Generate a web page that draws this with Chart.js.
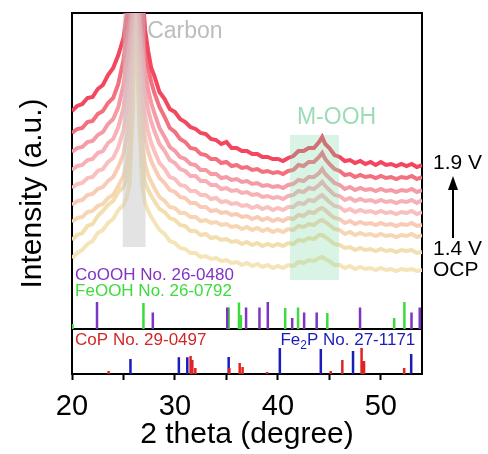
<!DOCTYPE html>
<html>
<head>
<meta charset="utf-8">
<script src="https://cdn.jsdelivr.net/npm/chart.js@4.4.0/dist/chart.umd.min.js"></script>
<style>
  html, body { margin: 0; padding: 0; background: #fff; }
</style>
</head>
<body>
<canvas id="myChart" width="488" height="454"></canvas>
<script>
// 2 theta grid shared by all scans
const twoTheta = [
  20, 20.5, 21, 21.5, 22, 22.5, 23, 23.5, 24, 24.5, 25,
  25.3, 25.6, 25.9, 26.2, 26.5, 26.8, 27.1, 27.4, 27.7,
  28, 28.5, 29, 29.5, 30, 30.5, 31, 31.5, 32, 32.5, 33, 33.5, 34, 34.5, 35, 35.5, 36, 36.5, 37, 37.5, 38, 38.5, 39, 39.5, 40, 40.5, 41, 41.5, 42, 42.5, 43, 43.5, 44,
  44.3, 44.6,
  45, 45.5, 46, 46.5, 47, 47.5, 48, 48.5, 49, 49.5, 50, 50.5, 51, 51.5, 52, 52.5, 53, 53.5, 54
];

// scans, from 1.9 V (top) down to OCP (bottom), stacked intensities
const scan19 = [
  263, 268, 270, 276, 277, 285, 289, 299, 306, 319, 336,
  358, 394, 414, 424, 414, 389, 344, 323, 306,
  298, 282, 275, 265, 262, 255, 252, 247, 245, 241, 240, 235, 234, 230, 232, 226, 226, 223, 223, 220, 220, 217, 217, 215, 215, 213, 216, 218, 223, 223, 226, 226, 232,
  237, 230,
  226, 219, 217, 213, 214, 211, 213, 210, 212, 209, 212, 209, 210, 208, 210, 208, 210, 207, 209
];
const scan2 = [
  241, 245, 246, 252, 253, 260, 263, 271, 276, 290, 314,
  339, 369, 395, 405, 395, 364, 329, 306, 292,
  281, 267, 257, 246, 242, 235, 232, 226, 225, 220, 219, 215, 215, 211, 212, 208, 209, 206, 207, 204, 205, 202, 203, 201, 202, 200, 203, 204, 209, 208, 212, 212, 217,
  221, 215,
  210, 205, 203, 199, 200, 197, 199, 197, 198, 196, 198, 196, 197, 195, 197, 196, 198, 195, 197
];
const scan3 = [
  222, 226, 227, 232, 233, 239, 242, 250, 255, 267, 289,
  314, 344, 369, 379, 369, 339, 304, 284, 271,
  261, 246, 237, 227, 223, 217, 215, 210, 209, 204, 204, 200, 200, 196, 197, 194, 195, 192, 193, 190, 191, 188, 189, 187, 188, 186, 189, 190, 194, 193, 197, 197, 201,
  205, 200,
  196, 191, 189, 185, 187, 184, 186, 184, 185, 183, 185, 183, 184, 182, 184, 183, 185, 182, 184
];
const scan4 = [
  204, 208, 209, 214, 215, 221, 223, 231, 235, 247, 266,
  289, 319, 360, 400, 360, 314, 282, 264, 252,
  243, 230, 223, 214, 211, 205, 203, 198, 198, 193, 193, 189, 189, 185, 186, 183, 184, 181, 182, 179, 180, 177, 178, 176, 177, 175, 178, 179, 183, 182, 186, 185, 189,
  192, 188,
  184, 179, 178, 174, 176, 173, 175, 173, 174, 172, 174, 172, 173, 171, 173, 172, 174, 171, 174
];
const scan5 = [
  186, 190, 191, 196, 197, 203, 205, 212, 216, 227, 244,
  264, 289, 340, 400, 340, 286, 259, 242, 231,
  223, 211, 205, 197, 195, 189, 188, 183, 183, 179, 179, 175, 176, 172, 173, 170, 171, 168, 169, 166, 168, 165, 167, 164, 166, 164, 167, 167, 171, 170, 174, 173, 177,
  179, 176,
  172, 168, 167, 163, 165, 162, 164, 162, 163, 161, 163, 161, 162, 160, 162, 161, 163, 160, 162
];
const scan6 = [
  169, 173, 174, 179, 180, 185, 187, 193, 197, 207, 220,
  236, 260, 320, 400, 320, 260, 236, 222, 213,
  206, 196, 191, 184, 182, 177, 176, 171, 171, 167, 167, 163, 164, 161, 162, 159, 160, 157, 158, 155, 157, 154, 156, 153, 155, 153, 156, 155, 159, 158, 162, 161, 165,
  166, 164,
  160, 156, 155, 151, 153, 150, 152, 150, 151, 149, 151, 149, 150, 148, 150, 149, 151, 148, 149
];
const scan7 = [
  152, 156, 157, 162, 163, 168, 170, 176, 179, 188, 198,
  210, 230, 300, 400, 300, 230, 210, 199, 192,
  186, 177, 173, 167, 166, 161, 161, 157, 157, 153, 154, 151, 152, 149, 150, 147, 148, 145, 147, 144, 146, 143, 145, 142, 144, 142, 145, 144, 148, 147, 150, 149, 153,
  154, 152,
  149, 145, 144, 140, 142, 139, 141, 139, 140, 138, 140, 138, 139, 137, 139, 138, 140, 137, 139
];
const scan14 = [
  134, 139, 141, 148, 150, 158, 163, 169, 173, 182, 187,
  194, 210, 280, 390, 280, 210, 192, 184, 178,
  173, 165, 162, 156, 154, 149, 148, 143, 143, 139, 140, 136, 137, 134, 135, 132, 133, 130, 132, 129, 131, 128, 130, 128, 130, 128, 131, 130, 134, 133, 136, 135, 139,
  139, 137,
  134, 130, 129, 126, 127, 124, 126, 124, 125, 123, 125, 123, 124, 122, 124, 123, 124, 121, 122
];
const scanOCP = [
  116, 121, 124, 130, 133, 141, 144, 151, 155, 164, 169,
  176, 190, 260, 380, 260, 190, 171, 163, 157,
  152, 144, 140, 133, 131, 126, 125, 121, 121, 117, 118, 115, 116, 113, 114, 111, 112, 109, 111, 108, 110, 107, 109, 106, 108, 106, 109, 108, 112, 111, 114, 113, 116,
  117, 115,
  113, 109, 109, 106, 108, 105, 107, 105, 106, 104, 106, 104, 105, 103, 105, 104, 105, 103, 104
];

// reference patterns: peak positions (2 theta) and relative heights
const coooh2Theta = [22.43, 27.85, 35.08, 36.91, 38.21, 39.02, 41.39, 42.55, 43.77, 47.98, 52.98, 53.78];
const cooohHeight = [27, 16.5, 21.5, 21.5, 21.5, 27, 11, 16.5, 16.5, 21.5, 16.5, 21.5];
const feooh2Theta = [20.05, 26.94, 35.22, 36.22, 36.4, 40.71, 41.96, 44.8, 51.3, 52.29];
const feoohHeight = [5, 26, 21.5, 26.5, 14, 21, 21.5, 16, 11, 27];
const cop2Theta = [23.56, 31.52, 31.69, 31.98, 35.29, 36.29, 36.57, 38.95, 45.13, 46.26, 48.13, 48.37, 52.27];
const copHeight = [3, 18, 14, 6, 6, 11, 7, 2, 3, 14, 26, 13, 6];
const fe2p2Theta = [25.68, 30.38, 31.2, 35.22, 40.19, 44.17, 47.3, 52.95];
const fe2pHeight = [15, 16.7, 16.7, 17, 26, 25, 23, 20];

const xTickLabels = [20, 30, 40, 50];

const scans = [scan19, scan2, scan3, scan4, scan5, scan6, scan7, scan14, scanOCP];
const scanColors = ['#f3465f', '#f3707f', '#f59ba5', '#f7b0b6', '#f8c0bf', '#f8cbb7', '#f6d6b3', '#f3deaf', '#f4e4b8'];

const upperBase = 45;   // baseline of the CoOOH / FeOOH pattern
const FONT = "'Liberation Sans', Arial, sans-serif";

function sticks(pos, h, base){
  const pts = [];
  pos.forEach(function(p, i){
    pts.push({x: p, y: base}, {x: p, y: base + h[i]}, {x: p, y: null});
  });
  return pts;
}

const datasets = scans.map(function(s, i){
  return {
    data: twoTheta.map(function(t, j){ return {x: t, y: s[j]}; }),
    borderColor: scanColors[i],
    borderWidth: 4,
    pointRadius: 0,
    tension: 0
  };
});
function stickSet(pos, h, base, color){
  return { data: sticks(pos, h, base), borderColor: color, borderWidth: 2.5, pointRadius: 0, spanGaps: false };
}
datasets.push(stickSet(coooh2Theta, cooohHeight, upperBase, '#7f35c4'));
datasets.push(stickSet(feooh2Theta, feoohHeight, upperBase, '#3ddb3d'));
datasets.push(stickSet(cop2Theta, copHeight, 0, '#e02424'));
datasets.push(stickSet(fe2p2Theta, fe2pHeight, 0, '#1c1cb8'));
// divider between the two reference panels
datasets.push({ data: [{x: 20, y: upperBase}, {x: 54, y: upperBase}], borderColor: '#000', borderWidth: 2, pointRadius: 0 });

const decorations = {
  id: 'decorations',
  afterDatasetsDraw(chart){
    const {ctx, chartArea, scales} = chart;
    const x = scales.x, y = scales.y;
    ctx.save();
    ctx.beginPath();
    ctx.rect(chartArea.left, chartArea.top, chartArea.width, chartArea.height);
    ctx.clip();

    // shaded bands
    function band(x0, x1, y0, y1, color){
      const l = x.getPixelForValue(x0), r = x.getPixelForValue(x1);
      const t = y.getPixelForValue(y1), b = y.getPixelForValue(y0);
      ctx.fillStyle = color;
      ctx.fillRect(l, t, r - l, b - t);
    }
    band(24.93, 27.14, 127, 361, 'rgba(200,200,200,0.5)');
    band(41.17, 45.94, 94, 239, 'rgba(130,220,170,0.3)');

    ctx.textBaseline = 'alphabetic';
    ctx.font = '23px ' + FONT;
    ctx.fillStyle = '#bdbdbd';
    ctx.fillText('Carbon', x.getPixelForValue(27.3), y.getPixelForValue(336));
    ctx.fillStyle = '#9cdcb8';
    ctx.fillText('M-OOH', x.getPixelForValue(41.85), y.getPixelForValue(250));

    ctx.textBaseline = 'middle';
    ctx.font = '17px ' + FONT;
    ctx.fillStyle = '#7f35c4';
    ctx.fillText('CoOOH No. 26-0480', x.getPixelForValue(20.3), y.getPixelForValue(99));
    ctx.fillStyle = '#3ddb3d';
    ctx.fillText('FeOOH No. 26-0792', x.getPixelForValue(20.3), y.getPixelForValue(83));
    ctx.fillStyle = '#d02828';
    ctx.fillText('CoP No. 29-0497', x.getPixelForValue(20.3), y.getPixelForValue(34));

    // Fe2P with subscript, right aligned
    ctx.fillStyle = '#1c1cb8';
    const right = x.getPixelForValue(53.35);
    const tail = 'P No. 27-1171';
    const wTail = ctx.measureText(tail).width;
    ctx.font = '12px ' + FONT;
    const wSub = ctx.measureText('2').width;
    ctx.font = '17px ' + FONT;
    const wFe = ctx.measureText('Fe').width;
    const yy = y.getPixelForValue(34);
    let cx = right - wTail - wSub - wFe;
    ctx.fillText('Fe', cx, yy);
    cx += wFe;
    ctx.font = '12px ' + FONT;
    ctx.fillText('2', cx, yy + 6);
    cx += wSub;
    ctx.font = '17px ' + FONT;
    ctx.fillText(tail, cx, yy);
    ctx.restore();
  },
  afterDraw(chart){
    const {ctx, chartArea, scales} = chart;
    const y = scales.y;
    const lx = chartArea.right + 11;
    const yTop = y.getPixelForValue(scan19[scan19.length - 1]) - 2;
    const yLow = y.getPixelForValue(scan14[scan14.length - 1]);
    const yOcp = y.getPixelForValue(scanOCP[scanOCP.length - 1]);
    ctx.save();
    ctx.fillStyle = '#000';
    ctx.font = '21px ' + FONT;
    ctx.textBaseline = 'middle';
    ctx.fillText('1.9 V', lx, yTop);
    ctx.fillText('1.4 V', lx, yLow - 3);
    ctx.fillText('OCP', lx, yOcp);
    // arrow
    const ax = chartArea.right + 31;
    ctx.strokeStyle = '#000';
    ctx.lineWidth = 2;
    ctx.beginPath();
    ctx.moveTo(ax, yLow - 14);
    ctx.lineTo(ax, yTop + 24);
    ctx.stroke();
    ctx.beginPath();
    ctx.moveTo(ax, yTop + 13);
    ctx.lineTo(ax - 5, yTop + 27);
    ctx.lineTo(ax + 5, yTop + 27);
    ctx.closePath();
    ctx.fill();
    ctx.restore();
  }
};

const ctx = document.getElementById('myChart').getContext('2d');
const chart = new Chart(ctx, {
  type: 'line',
  data: { datasets: datasets },
  options: {
    responsive: false,
    animation: false,
    layout: { padding: 0 },
    plugins: { legend: { display: false }, tooltip: { enabled: false } },
    scales: {
      x: {
        type: 'linear', position: 'bottom', min: 20, max: 54, offset: false,
        afterFit: function(s){ s.height = 80; },
        ticks: {
          stepSize: 5, includeBounds: false, autoSkip: false, maxRotation: 0, padding: 10,
          color: '#000', font: { size: 29, family: FONT },
          callback: function(v){ return xTickLabels.includes(v) ? String(v) : ''; }
        },
        grid: { drawOnChartArea: false, drawTicks: true, tickLength: 6, tickColor: '#000', tickWidth: 2 },
        border: { color: '#000', width: 2 },
        title: { display: true, text: '2 theta (degree)', color: '#000', font: { size: 30, family: FONT }, padding: { top: 0, bottom: 1 } }
      },
      xTop: {
        type: 'linear', position: 'top', min: 20, max: 54,
        afterFit: function(s){ s.height = 13; },
        ticks: { display: false }, grid: { display: false },
        border: { color: '#000', width: 2 }
      },
      y: {
        type: 'linear', position: 'left', min: 0, max: 361,
        afterFit: function(s){ s.width = 72; },
        ticks: { display: false }, grid: { display: false },
        border: { color: '#000', width: 2 },
        title: { display: true, text: 'Intensity (a.u.)', color: '#000', font: { size: 30, family: FONT }, padding: { top: 15, bottom: 0 } }
      },
      yRight: {
        type: 'linear', position: 'right', min: 0, max: 361,
        afterFit: function(s){ s.width = 66; },
        ticks: { display: false }, grid: { display: false },
        border: { color: '#000', width: 2 }
      }
    }
  },
  plugins: [decorations]
});
</script>
</body>
</html>
